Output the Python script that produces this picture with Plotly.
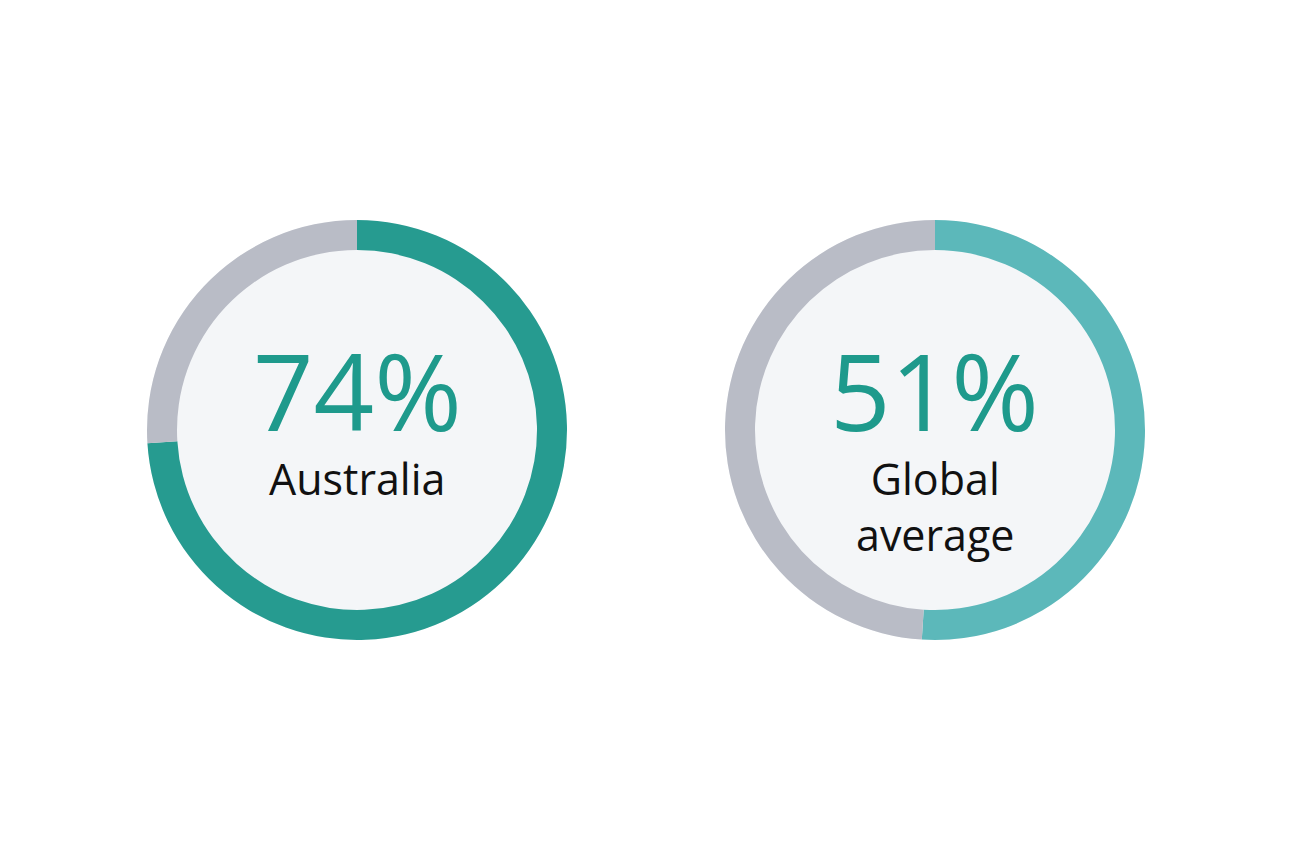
import plotly.graph_objects as go

labels = ["Australia", "Global<br>average"]
shares = [74, 51]
ring_colors = ["#269B90", "#5CB8BA"]
rest_color = "#B9BCC6"
inner_color = "#F4F6F8"
pct_color = "#1E9A8C"

W, H = 1289, 859
# donut centres / radius in pixels (page body adds an 8px offset)
centres = [(349, 422), (927, 422)]
R = 210

fig = go.Figure()
for i, (label, share) in enumerate(zip(labels, shares)):
    cx, cy = centres[i]
    dom = dict(x=[(cx - R) / W, (cx + R) / W], y=[1 - (cy + R) / H, 1 - (cy - R) / H])
    # light background disc behind the ring
    fig.add_trace(go.Pie(
        values=[1], domain=dom, marker=dict(colors=[inner_color], line=dict(width=0)),
        textinfo="none", hoverinfo="skip", showlegend=False, sort=False,
    ))
    fig.add_trace(go.Pie(
        values=[share, 100 - share], labels=["yes", "no"], domain=dom, hole=180 / 210,
        direction="clockwise", sort=False, rotation=0,
        marker=dict(colors=[ring_colors[i], rest_color], line=dict(width=0)),
        textinfo="none", hoverinfo="skip", showlegend=False,
    ))
    fig.add_annotation(
        x=cx / W, y=1 - (cy - 40) / H, xref="paper", yref="paper", showarrow=False,
        text=f"{share}%", font=dict(family="Open Sans", size=106, color=pct_color),
        xanchor="center", yanchor="middle",
    )
    fig.add_annotation(
        x=cx / W, y=1 - (cy + 17) / H, xref="paper", yref="paper", showarrow=False,
        text=label, font=dict(family="Open Sans", size=43, color="#111111"),
        xanchor="center", yanchor="top",
    )

fig.update_layout(
    width=W, height=H, margin=dict(l=0, r=0, t=0, b=0),
    paper_bgcolor="white", plot_bgcolor="white",
)
fig.write_html("out.html")
